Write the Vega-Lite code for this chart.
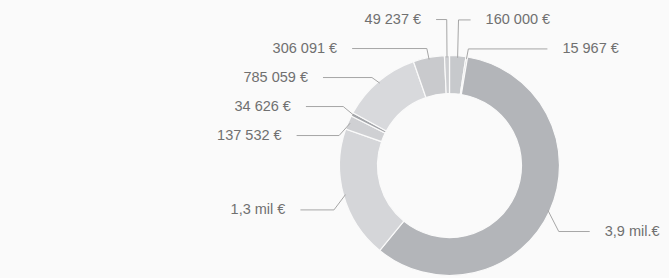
{
  "$schema": "https://vega.github.io/schema/vega-lite/v6.json",
  "width": 669,
  "height": 278,
  "autosize": {"type": "fit", "contains": "padding"},
  "padding": 0,
  "background": "#fafafa",
  "config": {"view": {"stroke": null}},
  "data": {
    "values": [
      {"i": 1, "label": "160 000 €", "value": 160000},
      {"i": 2, "label": "15 967 €", "value": 15967},
      {"i": 3, "label": "3,9 mil.€", "value": 3900000},
      {"i": 4, "label": "1,3 mil €", "value": 1300000},
      {"i": 5, "label": "137 532 €", "value": 137532},
      {"i": 6, "label": "34 626 €", "value": 34626},
      {"i": 7, "label": "785 059 €", "value": 785059},
      {"i": 8, "label": "306 091 €", "value": 306091},
      {"i": 9, "label": "49 237 €", "value": 49237}
    ]
  },
  "transform": [
    {"joinaggregate": [{"op": "sum", "field": "value", "as": "total"}]},
    {"window": [{"op": "sum", "field": "value", "as": "cum"}], "sort": [{"field": "i"}], "frame": [null, 0]},
    {"calculate": "(datum.cum - datum.value/2)/datum.total*2*PI", "as": "a"},
    {"calculate": "sin(datum.a) < 0 ? 'L' : 'R'", "as": "side"},
    {"calculate": "150*cos(datum.a) - 4", "as": "py"},
    {"window": [{"op": "row_number", "as": "rn"}], "groupby": ["side"], "sort": [{"field": "py", "order": "descending"}]},
    {"calculate": "datum.py + (datum.rn-1)*29", "as": "q"},
    {"window": [{"op": "min", "field": "q", "as": "w"}], "groupby": ["side"], "sort": [{"field": "py", "order": "descending"}], "frame": [null, 0]},
    {"calculate": "datum.w - (datum.rn-1)*29", "as": "ly"},
    {"calculate": "(datum.side=='L'?-1:1)*(sqrt(max(0,146*146-datum.ly*datum.ly))+10)", "as": "hx"},
    {"calculate": "108*sin(datum.a)", "as": "sx"},
    {"calculate": "108*cos(datum.a)", "as": "sy"},
    {"calculate": "120*sin(datum.a)", "as": "bx"},
    {"calculate": "datum.hx + (datum.side=='L'?-15:15)", "as": "tx"}
  ],
  "layer": [
    {
      "mark": {"type": "arc", "innerRadius": 72, "outerRadius": 110, "stroke": "#fafafa", "strokeWidth": 1.2},
      "encoding": {
        "theta": {"field": "value", "type": "quantitative", "stack": true},
        "order": {"field": "i", "type": "quantitative"},
        "color": {
          "field": "label", "type": "nominal", "legend": null,
          "scale": {
            "domain": ["160 000 €", "15 967 €", "3,9 mil.€", "1,3 mil €", "137 532 €", "34 626 €", "785 059 €", "306 091 €", "49 237 €"],
            "range": ["#c7c9cc", "#bfc1c4", "#b3b5b9", "#d5d6d9", "#cfd0d3", "#a3a5a9", "#d8d9dc", "#c9cacd", "#cdced1"]
          }
        },
        "x": {"datum": 0, "type": "quantitative", "scale": {"domain": [-449.5, 219.5], "nice": false, "zero": false}, "axis": null},
        "y": {"datum": 0, "type": "quantitative", "scale": {"domain": [-112.5, 165.5], "nice": false, "zero": false}, "axis": null}
      }
    },
    {
      "mark": {"type": "rule", "color": "#a6a6a6", "strokeWidth": 1},
      "encoding": {
        "x": {"field": "sx", "type": "quantitative", "scale": {"domain": [-449.5, 219.5], "nice": false, "zero": false}, "axis": null},
        "y": {"field": "sy", "type": "quantitative", "scale": {"domain": [-112.5, 165.5], "nice": false, "zero": false}, "axis": null},
        "x2": {"field": "bx"},
        "y2": {"field": "ly"}
      }
    },
    {
      "mark": {"type": "rule", "color": "#a6a6a6", "strokeWidth": 1},
      "encoding": {
        "x": {"field": "bx", "type": "quantitative", "scale": {"domain": [-449.5, 219.5], "nice": false, "zero": false}, "axis": null},
        "y": {"field": "ly", "type": "quantitative", "scale": {"domain": [-112.5, 165.5], "nice": false, "zero": false}, "axis": null},
        "x2": {"field": "hx"},
        "y2": {"field": "ly"}
      }
    },
    {
      "transform": [{"filter": "datum.side=='L'"}],
      "mark": {"type": "text", "align": "right", "baseline": "middle", "font": "Liberation Sans", "fontSize": 14.5, "color": "#707070"},
      "encoding": {
        "x": {"field": "tx", "type": "quantitative", "scale": {"domain": [-449.5, 219.5], "nice": false, "zero": false}, "axis": null},
        "y": {"field": "ly", "type": "quantitative", "scale": {"domain": [-112.5, 165.5], "nice": false, "zero": false}, "axis": null},
        "text": {"field": "label"}
      }
    },
    {
      "transform": [{"filter": "datum.side=='R'"}],
      "mark": {"type": "text", "align": "left", "baseline": "middle", "font": "Liberation Sans", "fontSize": 14.5, "color": "#707070"},
      "encoding": {
        "x": {"field": "tx", "type": "quantitative", "scale": {"domain": [-449.5, 219.5], "nice": false, "zero": false}, "axis": null},
        "y": {"field": "ly", "type": "quantitative", "scale": {"domain": [-112.5, 165.5], "nice": false, "zero": false}, "axis": null},
        "text": {"field": "label"}
      }
    }
  ]
}
